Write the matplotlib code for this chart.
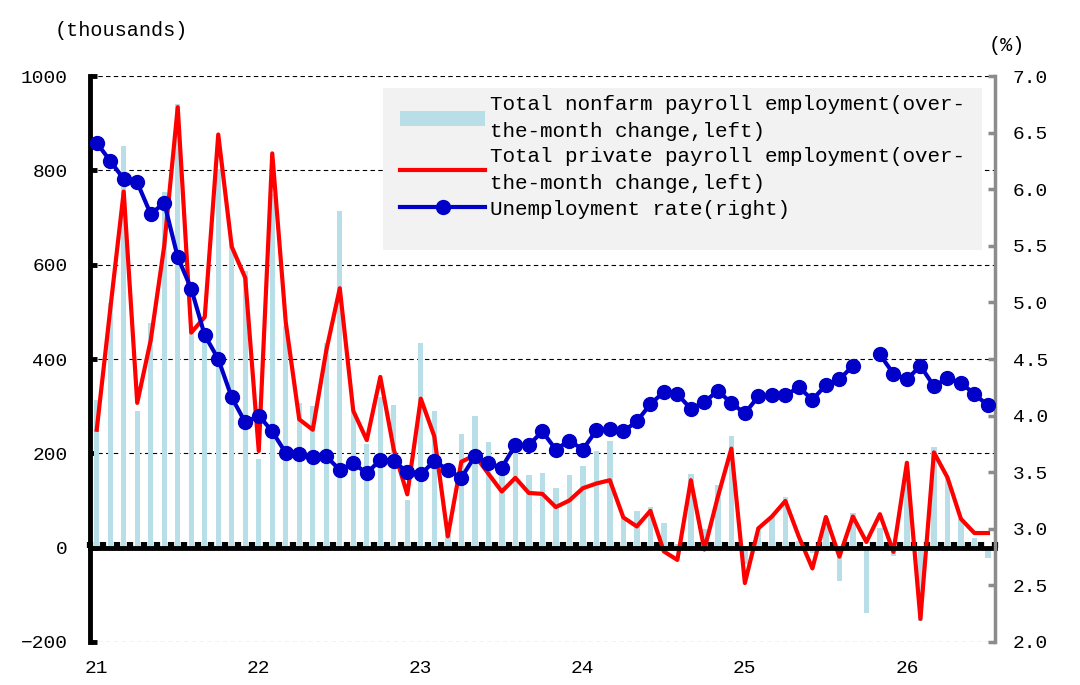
import numpy as np
import matplotlib
matplotlib.use("Agg")
from matplotlib import pyplot as plt
from matplotlib.lines import Line2D
from matplotlib.patches import Patch, Rectangle
from matplotlib.transforms import blended_transform_factory

plt.rcParams['font.family'] = ['Liberation Mono', 'DejaVu Sans Mono']

# monthly data, Jan 2021 .. Jul 2026
nonfarm = [313, 518, 851, 290, 477, 755, 941, 460, 440, 803, 645, 586,
           189, 750, 470, 306, 300, 433, 714, 288, 220, 320, 303, 100,
           434, 290, 30, 242, 280, 225, 165, 208, 155, 158, 127, 155,
           174, 206, 227, 65, 78, 86, 52, 8, 156, 40, 133, 237,
           -35, 43, 66, 107, 15, -12, 62, -70, 74, -139, 42, -17,
           165, -155, 213, 148, 60, 20, -22]

private = [250, 505, 755, 307, 440, 640, 934, 456, 489, 876, 638, 572,
           205, 836, 478, 272, 250, 418, 550, 290, 228, 362, 208, 113,
           316, 236, 24, 182, 196, 157, 119, 148, 116, 114, 86, 100,
           126, 136, 143, 64, 45, 78, -8, -26, 143, -4, 108, 210,
           -75, 41, 66, 99, 23, -44, 65, -19, 66, 12, 71, -9,
           180, -151, 202, 149, 61, 31, 31]

unemp = [6.41, 6.25, 6.09, 6.06, 5.78, 5.88, 5.40, 5.12, 4.71, 4.50, 4.16, 3.94,
         4.00, 3.86, 3.67, 3.66, 3.63, 3.64, 3.52, 3.58, 3.49, 3.61, 3.60, 3.50,
         3.48, 3.60, 3.52, 3.45, 3.64, 3.58, 3.54, 3.74, 3.74, 3.86, 3.70, 3.78,
         3.70, 3.87, 3.88, 3.86, 3.95, 4.10, 4.21, 4.19, 4.06, 4.12, 4.22, 4.11,
         4.02, 4.17, 4.18, 4.18, 4.25, 4.14, 4.27, 4.32, 4.44, np.nan, 4.54, 4.37,
         4.32, 4.44, 4.26, 4.33, 4.29, 4.19, 4.09]

year_labels = ['21', '22', '23', '24', '25', '26']

label_nonfarm = 'Total nonfarm payroll employment(over-\nthe-month change,left)'
label_private = 'Total private payroll employment(over-\nthe-month change,left)'
label_unemp = 'Unemployment rate(right)'

bar_color = '#b8dee8'
red = '#ff0000'
blue = '#0000c8'
gray = '#8c8c8c'

x = np.arange(len(nonfarm))

fig = plt.figure(figsize=(10.8, 6.85), dpi=100)
ax = fig.add_axes([0.0833, 0.0628, 0.8377, 0.8262])
ax2 = ax.twinx()

ax.set_axisbelow(True)
ax.bar(x, nonfarm, width=0.4, color=bar_color, zorder=1)
ax.plot(x, private, color=red, lw=3, zorder=3)
ax2.plot(x, unemp, color=blue, lw=3, marker='o', markersize=10, zorder=4)

ax.set_xlim(-0.45, 66.5)
ax.set_ylim(-200, 1000)
ax2.set_ylim(2.0, 7.0)

# grid
ax.set_yticks(np.arange(-200, 1001, 200))
ax.yaxis.grid(True, color='black', linestyle=(0, (4, 3)), lw=0.8)

# spines
ax.spines['top'].set_visible(False)
ax2.spines['top'].set_visible(False)
ax.spines['right'].set_visible(False)
ax2.spines['left'].set_visible(False)
ax2.spines['bottom'].set_visible(False)
ax.spines['left'].set_linewidth(3.5)
ax.spines['bottom'].set_position(('data', 0))
ax.spines['bottom'].set_linewidth(3.5)
ax.spines['bottom'].set_zorder(5)
ax2.spines['right'].set_color(gray)
ax2.spines['right'].set_linewidth(2.5)

ax.tick_params(axis='y', direction='in', length=5, width=3.5, labelsize=14, pad=16)
ax2.tick_params(axis='y', direction='in', length=5, width=2.5, color=gray, labelsize=14, pad=13)
ax2.set_yticks(np.arange(2.0, 7.01, 0.5))
ax2.set_yticklabels(['%.1f' % v for v in np.arange(2.0, 7.01, 0.5)])

# month boundary ticks on the zero line
ax.set_xticks(np.arange(-0.5, 66.6, 1))
ax.tick_params(axis='x', direction='in', length=4.5, width=4.5, labelbottom=False)

trans = blended_transform_factory(ax.transData, ax.transAxes)
for i, lab in enumerate(year_labels):
    ax.text(i * 12, -0.046, lab, transform=trans, ha='center', va='center', fontsize=14)

fig.text(0.051, 0.956, '(thousands)', ha='left', va='center', fontsize=14.5)
fig.text(0.915, 0.934, '(%)', ha='left', va='center', fontsize=14.5)

# legend box
ax2.add_patch(Rectangle((0.3238, 0.6926), 0.6619, 0.2862, transform=ax2.transAxes,
                        facecolor='#f2f2f2', edgecolor='none', zorder=9))

handles = [Patch(facecolor=bar_color, edgecolor='none'),
           Line2D([], [], color=red, lw=3),
           Line2D([], [], color=blue, lw=3, marker='o', markersize=10)]
leg = ax2.legend(handles, [label_nonfarm, label_private, label_unemp],
                 loc='upper left', bbox_to_anchor=(0.3425, 0.966),
                 frameon=False, fontsize=15, handlelength=4.1, handletextpad=0.25,
                 labelspacing=0.32, borderpad=0, borderaxespad=0)
for t in leg.get_texts():
    t.set_linespacing(1.5)
leg.set_zorder(10)

fig.savefig('out.png', dpi=100)
